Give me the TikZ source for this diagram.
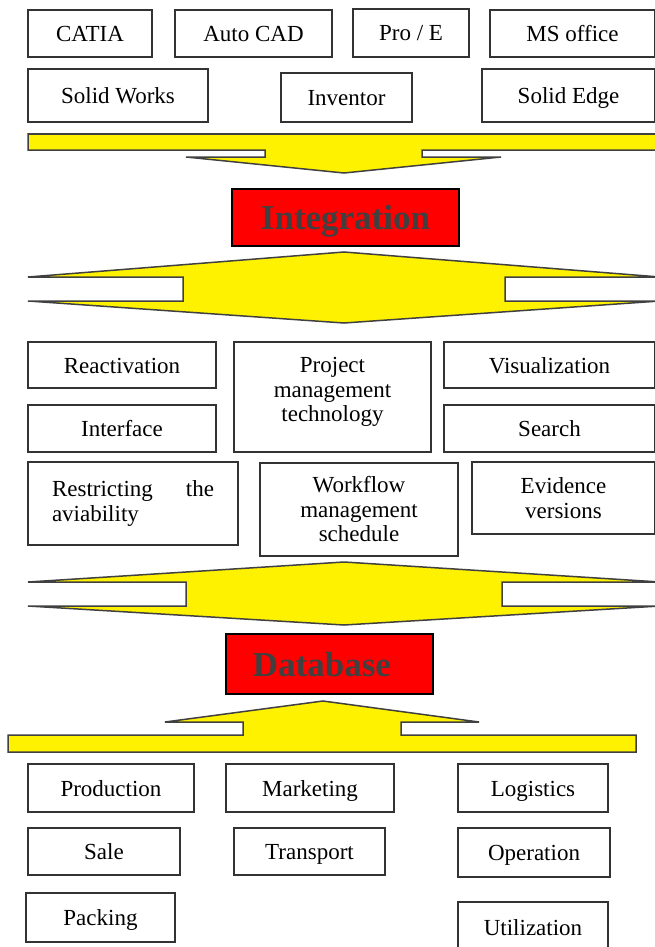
\documentclass[tikz,border=0pt]{standalone}
\usepackage{fontspec}
\setmainfont{Liberation Serif}

\tikzset{
   tool/.style={
      draw = black!80,
      line width = 1.5pt,
      inner sep = 0pt,
      align = center,
      font = \fontsize{23}{24.5}\selectfont
   },
   oneline/.style={
      text height = 16pt,
      text depth = 0pt
   },
   keybox/.style={
      draw = black,
      fill = red,
      line width = 1.5pt,
      inner sep = 0pt,
      text = black!75,
      text height = 24pt,
      text depth = 0pt,
      font = \bfseries\fontsize{35}{40}\selectfont
   },
   band/.style={
      draw = black!75,
      fill = yellow,
      line width = 1.5pt,
      line join = miter
   }
}

\begin{document}
\begin{tikzpicture}[x=1pt, y=-1pt]
   \useasboundingbox[fill=white] (0,0) rectangle (654,947);

   % software boxes, tool boxes and department boxes
   \foreach \nm/\xa/\ya/\xb/\yb/\txt in {
      catia/28/10/152/57/CATIA,
      autocad/175/10/332/57/Auto CAD,
      proe/353/9/469/57/{Pro / E},
      msoffice/490/10/655/57/MS office,
      solidworks/28/69/208/122/Solid Works,
      inventor/281/73/412/122/Inventor,
      solidedge/482/69/655/122/Solid Edge,
      react/28/342/216/388/Reactivation,
      interf/28/405/216/452/Interface,
      visual/444/342/655/388/Visualization,
      search/444/405/655/452/Search,
      prod/28/764/194/812/Production,
      market/226/764/394/812/Marketing,
      logis/458/764/608/812/Logistics,
      sale/28/828/180/875/Sale,
      transp/234/828/385/875/Transport,
      oper/458/828/610/877/Operation,
      pack/26/893/175/942/Packing,
      util/458/902/608/952/Utilization}
      \node[tool, oneline, minimum width={\xb-\xa}, minimum height={\yb-\ya}]
         (\nm) at ({(\xa+\xb)/2},{(\ya+\yb)/2}) {\txt};

   % boxes with more lines
   \node[tool, text depth=15pt, minimum width=197, minimum height=110] (proj) at (332.5,397)
      {Project\\management\\technology};
   \node[tool, minimum width=198, minimum height=93] (workflow) at (359,509.5)
      {Workflow\\management\\schedule};
   \node[tool, minimum width=183, minimum height=72] (evid) at (563.5,498)
      {Evidence\\versions};
   \node[tool, align=left, minimum width=210, minimum height=83] (restrict) at (133,503.5)
      {\makebox[162pt][s]{Restricting the}\\aviability};

   % red key boxes
   \node[keybox, minimum width=227, minimum height=57] (integ) at (345.5,217.5) {Integration};
   \node[keybox, minimum width=207, minimum height=60] (datab) at (329.5,664)
      {\hspace*{-15pt}Database};

   % yellow block arrows
   \draw[band] (28,134) -- (660,134) -- (660,150) -- (422,150) -- (422,157) -- (501,157)
      -- (344,173) -- (186,157) -- (265,157) -- (265,150) -- (28,150) -- cycle;

   \draw[band] (344,252) -- (28,277) -- (183,277) -- (183,301) -- (28,301) -- (344,323)
      -- (660,301) -- (505,301) -- (505,277) -- (660,277) -- cycle;

   \draw[band] (344,562) -- (28,582) -- (186,582) -- (186,606) -- (28,606) -- (344,625)
      -- (660,606) -- (502,606) -- (502,582) -- (660,582) -- cycle;

   \draw[band] (8,752) -- (636,752) -- (636,735) -- (401,735) -- (401,722) -- (479,722)
      -- (323,701) -- (165,722) -- (243,722) -- (243,735) -- (8,735) -- cycle;

\end{tikzpicture}
\end{document}
